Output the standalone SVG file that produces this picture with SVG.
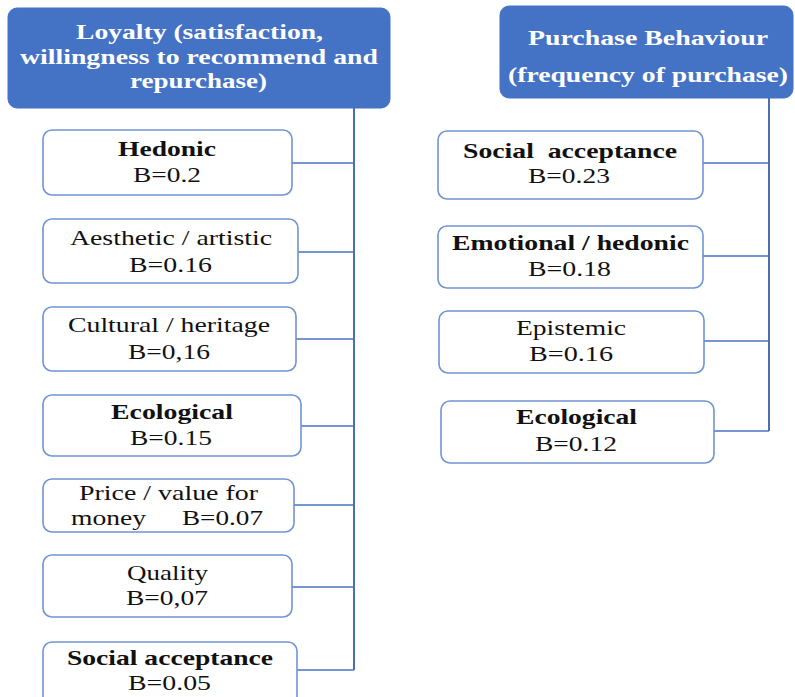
<svg xmlns="http://www.w3.org/2000/svg" width="795" height="697" viewBox="0 0 795 697">
<style>
.hdr{fill:#4472C4;stroke:#4472C4;stroke-width:1}
.box{fill:#fff;stroke:#7094D4;stroke-width:1.6}
.ht{font-family:"Liberation Serif","Times New Roman",serif;font-weight:bold;font-size:21px;fill:#fff;text-anchor:middle}
.t{font-family:"Liberation Serif","Times New Roman",serif;font-size:21px;fill:#111;text-anchor:middle}
.b{font-weight:bold}
.c{fill:none;stroke:#4A74C2;stroke-width:1.5}
.v{fill:none;stroke:#4A6FB5;stroke-width:2}
</style>
<rect width="795" height="697" fill="#fff"/>
<g id="connectors">
<path class="v" d="M354,108 V670"/>
<path class="c" d="M292,163 H354 M298,252 H354 M296,339 H354 M301,426 H354 M294,505 H354 M292,587 H354 M297,670 H354"/>
<path class="v" d="M769,98 V431"/>
<path class="c" d="M703,163 H769 M703,256 H769 M704,341 H769 M714,431 H769"/>
</g>
<g id="loyalty">
<rect class="hdr" x="8" y="8" width="382" height="100" rx="9"/>
<text class="ht" x="199.5" y="39" textLength="247" lengthAdjust="spacingAndGlyphs">Loyalty (satisfaction,</text>
<text class="ht" x="199" y="64" textLength="358" lengthAdjust="spacingAndGlyphs">willingness to recommend and</text>
<text class="ht" x="198.5" y="88" textLength="137" lengthAdjust="spacingAndGlyphs">repurchase)</text>
</g>
<g id="purchase">
<rect class="hdr" x="500" y="6" width="293" height="92" rx="9"/>
<text class="ht" x="648" y="45" textLength="240" lengthAdjust="spacingAndGlyphs">Purchase Behaviour</text>
<text class="ht" x="648" y="82" textLength="280" lengthAdjust="spacingAndGlyphs">(frequency of purchase)</text>
</g>
<g id="l-hedonic">
<rect class="box" x="43" y="130" width="249" height="65" rx="9"/>
<text class="t b" x="167" y="156" textLength="98" lengthAdjust="spacingAndGlyphs">Hedonic</text>
<text class="t" x="167" y="182" textLength="68" lengthAdjust="spacingAndGlyphs">B=0.2</text>
</g>
<g id="l-aesthetic">
<rect class="box" x="43" y="219" width="255" height="64" rx="9"/>
<text class="t" x="171" y="245" textLength="202" lengthAdjust="spacingAndGlyphs">Aesthetic / artistic</text>
<text class="t" x="170.5" y="272" textLength="83" lengthAdjust="spacingAndGlyphs">B=0.16</text>
</g>
<g id="l-cultural">
<rect class="box" x="43" y="307" width="253" height="64" rx="9"/>
<text class="t" x="169" y="332" textLength="202" lengthAdjust="spacingAndGlyphs">Cultural / heritage</text>
<text class="t" x="169" y="359" textLength="82" lengthAdjust="spacingAndGlyphs">B=0,16</text>
</g>
<g id="l-ecological">
<rect class="box" x="43" y="395" width="258" height="61" rx="9"/>
<text class="t b" x="172" y="419" textLength="122" lengthAdjust="spacingAndGlyphs">Ecological</text>
<text class="t" x="171" y="445" textLength="82" lengthAdjust="spacingAndGlyphs">B=0.15</text>
</g>
<g id="l-price">
<rect class="box" x="43" y="479" width="251" height="53" rx="9"/>
<text class="t" x="168.5" y="500" textLength="179" lengthAdjust="spacingAndGlyphs">Price / value for</text>
<text class="t" x="108.5" y="525" textLength="75" lengthAdjust="spacingAndGlyphs">money</text>
<text class="t" x="222.5" y="525" textLength="81" lengthAdjust="spacingAndGlyphs">B=0.07</text>
</g>
<g id="l-quality">
<rect class="box" x="43" y="555" width="249" height="62" rx="9"/>
<text class="t" x="167.5" y="580" textLength="81" lengthAdjust="spacingAndGlyphs">Quality</text>
<text class="t" x="167" y="605" textLength="82" lengthAdjust="spacingAndGlyphs">B=0,07</text>
</g>
<g id="l-social">
<rect class="box" x="43" y="642" width="254" height="70" rx="9"/>
<text class="t b" x="170" y="665" textLength="206" lengthAdjust="spacingAndGlyphs">Social acceptance</text>
<text class="t" x="169.5" y="690" textLength="83" lengthAdjust="spacingAndGlyphs">B=0.05</text>
</g>
<g id="r-social">
<rect class="box" x="438" y="131" width="265" height="68" rx="9"/>
<text class="t b" x="570" y="158" textLength="214" lengthAdjust="spacingAndGlyphs" xml:space="preserve">Social  acceptance</text>
<text class="t" x="569" y="183" textLength="82" lengthAdjust="spacingAndGlyphs">B=0.23</text>
</g>
<g id="r-emotional">
<rect class="box" x="438" y="226" width="265" height="62" rx="9"/>
<text class="t b" x="570.5" y="250" textLength="237" lengthAdjust="spacingAndGlyphs">Emotional / hedonic</text>
<text class="t" x="569.5" y="276" textLength="83" lengthAdjust="spacingAndGlyphs">B=0.18</text>
</g>
<g id="r-epistemic">
<rect class="box" x="439" y="311" width="265" height="62" rx="9"/>
<text class="t" x="571" y="335" textLength="110" lengthAdjust="spacingAndGlyphs">Epistemic</text>
<text class="t" x="571" y="361" textLength="84" lengthAdjust="spacingAndGlyphs">B=0.16</text>
</g>
<g id="r-ecological">
<rect class="box" x="441" y="401" width="273" height="62" rx="9"/>
<text class="t b" x="576.5" y="424" textLength="121" lengthAdjust="spacingAndGlyphs">Ecological</text>
<text class="t" x="576" y="451" textLength="82" lengthAdjust="spacingAndGlyphs">B=0.12</text>
</g>
</svg>
